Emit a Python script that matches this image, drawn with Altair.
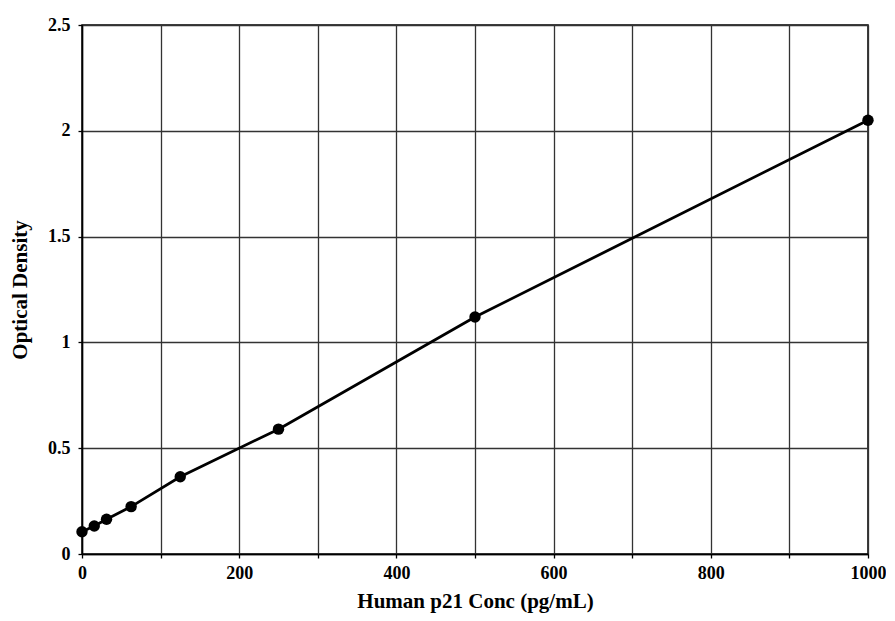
import altair as alt
import pandas as pd

conc = [0, 15.6, 31.25, 62.5, 125, 250, 500, 1000]
od = [0.105, 0.132, 0.164, 0.224, 0.365, 0.59, 1.12, 2.05]
x_ticks = list(range(0, 1001, 100))
y_ticks = [0, 0.5, 1, 1.5, 2, 2.5]

df = pd.DataFrame({"conc": conc, "od": od})
FONT = "Liberation Serif"

x_enc = alt.X("conc:Q", scale=alt.Scale(domain=[0, 1000], nice=False, zero=True),
              axis=alt.Axis(values=x_ticks, title="Human p21 Conc (pg/mL)",
                            labelExpr="datum.value % 200 == 0 ? datum.label : ''",
                            labelFlush=False, labelOverlap=False,
                            format="d", titleX=393, titleY=47, titleBaseline="middle"))
y_enc = alt.Y("od:Q", scale=alt.Scale(domain=[0, 2.5], nice=False),
              axis=alt.Axis(values=y_ticks, title="Optical Density", format="~g",
                            labelFlush=False, labelOverlap=False,
                            titleX=-62, titleY=264.5, titleBaseline="middle", titleAngle=-90))

base = alt.Chart(df)
line = base.mark_line(color="black", strokeWidth=2.8).encode(x=x_enc, y=y_enc)
pts = base.mark_circle(color="black", size=130, opacity=1).encode(x="conc:Q", y="od:Q")

chart = (line + pts).properties(
    width=786, height=529,
    autosize=alt.AutoSizeParams(type="none"),
    padding={"left": 74, "top": 17, "right": 18, "bottom": 59},
).configure_view(stroke="black", strokeWidth=1.5).configure_axis(
    labelFont=FONT, titleFont=FONT, labelFontWeight="bold", titleFontWeight="bold",
    labelFontSize=18, titleFontSize=21, labelColor="black", titleColor="black",
    gridColor="#333333", gridWidth=1.3, gridOpacity=1,
    domainColor="black", domainWidth=1.5, tickColor="black", tickSize=4, tickWidth=1.3,
    labelPadding=6,
).configure_axisY(labelPadding=8)

chart.save("out.html", embed_options={"renderer": "svg", "actions": False})
